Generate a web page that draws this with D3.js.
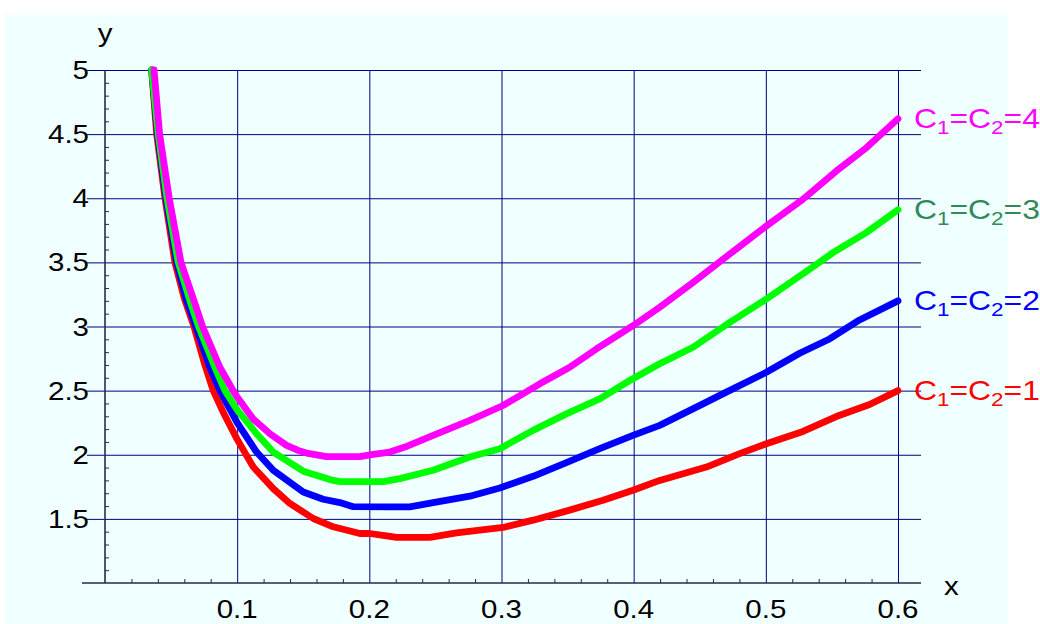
<!DOCTYPE html>
<html>
<head>
<meta charset="utf-8">
<script src="https://cdn.jsdelivr.net/npm/d3@7"></script>
<style>
  html, body { margin: 0; padding: 0; background: #ffffff; }
  svg { display: block; }
  text { font-family: "Liberation Sans", Arial, sans-serif; }
</style>
</head>
<body>
<svg id="chart" width="1040" height="624"></svg>
<script>
// Curves y(x) for C1 = C2 = 1..4
const curve1 = [
  [0.0353, 5.0], [0.0391, 4.5], [0.0454, 4.0], [0.0529, 3.5], [0.0600, 3.22],
  [0.0673, 3.0], [0.0756, 2.70], [0.0819, 2.5], [0.0900, 2.32], [0.1000, 2.12],
  [0.1122, 1.904], [0.1273, 1.736], [0.1399, 1.62], [0.1576, 1.503], [0.1727, 1.438],
  [0.1928, 1.386], [0.2004, 1.386], [0.2130, 1.368], [0.2206, 1.356], [0.2458, 1.356],
  [0.2558, 1.373], [0.2660, 1.391], [0.3012, 1.433], [0.3239, 1.49], [0.3516, 1.568],
  [0.3768, 1.645], [0.3995, 1.723], [0.4197, 1.80], [0.4550, 1.904], [0.4802, 2.009],
  [0.5004, 2.086], [0.5281, 2.182], [0.5533, 2.298], [0.5785, 2.392], [0.6000, 2.50]
];
const curve2 = [
  [0.0353, 5.0], [0.0398, 4.5], [0.0461, 4.0], [0.0542, 3.5], [0.0618, 3.2],
  [0.0688, 3.0], [0.0794, 2.68], [0.0870, 2.5], [0.1000, 2.25], [0.1147, 2.021],
  [0.1273, 1.879], [0.1500, 1.71], [0.1651, 1.653], [0.1777, 1.627], [0.1878, 1.595],
  [0.2155, 1.593], [0.2306, 1.593], [0.2483, 1.627], [0.2760, 1.677], [0.2987, 1.741],
  [0.3239, 1.832], [0.3491, 1.939], [0.3743, 2.047], [0.3995, 2.151], [0.4197, 2.229],
  [0.4524, 2.397], [0.4701, 2.488], [0.5004, 2.643], [0.5256, 2.791], [0.5482, 2.903],
  [0.5709, 3.051], [0.6000, 3.20]
];
const curve3 = [
  [0.0353, 5.0], [0.0403, 4.5], [0.0469, 4.0], [0.0554, 3.5], [0.0643, 3.2],
  [0.0708, 3.0], [0.0832, 2.682], [0.0908, 2.5], [0.1000, 2.35], [0.1147, 2.164],
  [0.1273, 2.021], [0.1500, 1.872], [0.1727, 1.80], [0.1777, 1.79], [0.2105, 1.79],
  [0.2231, 1.814], [0.2483, 1.879], [0.2760, 1.982], [0.2987, 2.047], [0.3239, 2.19],
  [0.3491, 2.319], [0.3743, 2.436], [0.3970, 2.579], [0.4197, 2.71], [0.4449, 2.838],
  [0.4701, 3.014], [0.5004, 3.214], [0.5331, 3.447], [0.5508, 3.576], [0.5760, 3.732],
  [0.6000, 3.91]
];
const curve4 = [
  [0.0371, 5.0], [0.0413, 4.5], [0.0486, 4.0], [0.0575, 3.5], [0.0680, 3.18],
  [0.0738, 3.0], [0.0870, 2.68], [0.0970, 2.5], [0.1000, 2.45], [0.1120, 2.28],
  [0.1248, 2.164], [0.1374, 2.073], [0.1462, 2.034], [0.1525, 2.013], [0.1676, 1.985],
  [0.1928, 1.985], [0.2029, 2.003], [0.2155, 2.021], [0.2269, 2.06], [0.2483, 2.151],
  [0.2760, 2.268], [0.3012, 2.384], [0.3290, 2.553], [0.3516, 2.682], [0.3718, 2.825],
  [0.3995, 3.006], [0.4197, 3.15], [0.4449, 3.343], [0.4726, 3.564], [0.5004, 3.784],
  [0.5281, 3.992], [0.5533, 4.212], [0.5760, 4.393], [0.6000, 4.62]
];

const cValues   = [1, 2, 3, 4];
const lineColors  = ["#ff0000", "#0000ff", "#00ff00", "#ff00ff"];
const labelColors = ["#ff0000", "#0000ff", "#2e8b57", "#ff00ff"];
const curves = [curve1, curve2, curve3, curve4];

const xTicks = [0.1, 0.2, 0.3, 0.4, 0.5, 0.6];
const yTicks = [1.5, 2, 2.5, 3, 3.5, 4, 4.5, 5];
const xTickLabels = ["0.1", "0.2", "0.3", "0.4", "0.5", "0.6"];
const yTickLabels = ["1.5", "2", "2.5", "3", "3.5", "4", "4.5", "5"];
const xMinor = d3.range(1, 31).map(i => +(i * 0.02).toFixed(2)).filter(v => !xTicks.includes(v));
const yMinor = d3.range(11, 50).map(i => +(i * 0.1).toFixed(1)).filter(v => !yTicks.includes(v));

// glyphs are drawn slightly wide
const WIDE = 1.18;

const svg = d3.select("#chart");

// plot background
svg.append("rect").attr("x", 5).attr("y", 15).attr("width", 1003).attr("height", 609)
  .attr("fill", "#f0ffff");

const x = d3.scaleLinear().domain([0, 0.6]).range([105, 898]);
const y = d3.scaleLinear().domain([1, 5]).range([583, 70]);

const gridColor = "#000080";
const axisColor = "#2a2a48";

// horizontal grid lines (start a little left of the y axis)
svg.append("g")
  .attr("transform", "translate(87,0)")
  .call(d3.axisRight(y).tickValues(yTicks).tickSize(921 - 87).tickFormat(""))
  .call(g => g.select(".domain").remove())
  .call(g => g.selectAll(".tick line").attr("stroke", gridColor).attr("stroke-width", 1));

// vertical grid lines
svg.append("g")
  .attr("transform", "translate(0,583)")
  .call(d3.axisTop(x).tickValues(xTicks).tickSize(583 - 70).tickFormat(""))
  .call(g => g.select(".domain").remove())
  .call(g => g.selectAll(".tick line").attr("stroke", gridColor).attr("stroke-width", 1));

// minor ticks
svg.append("g")
  .attr("transform", "translate(105,0)")
  .call(d3.axisRight(y).tickValues(yMinor).tickSize(4).tickFormat(""))
  .call(g => g.select(".domain").remove())
  .call(g => g.selectAll(".tick line").attr("stroke", axisColor));
svg.append("g")
  .attr("transform", "translate(0,583)")
  .call(d3.axisTop(x).tickValues(xMinor).tickSize(4).tickFormat(""))
  .call(g => g.select(".domain").remove())
  .call(g => g.selectAll(".tick line").attr("stroke", axisColor));

// axis lines
svg.append("line").attr("x1", 82).attr("x2", 921).attr("y1", y(1)).attr("y2", y(1))
  .attr("stroke", axisColor).attr("stroke-width", 1.6);
svg.append("line").attr("x1", x(0)).attr("x2", x(0)).attr("y1", y(1)).attr("y2", y(5))
  .attr("stroke", axisColor).attr("stroke-width", 1.6);

// tick labels
svg.append("g").selectAll("text").data(yTicks).join("text")
  .attr("transform", d => `translate(89,${y(d) + 9}) scale(${WIDE},1)`)
  .attr("text-anchor", "end")
  .attr("font-size", 25)
  .text((d, i) => yTickLabels[i]);
svg.append("g").selectAll("text").data(xTicks).join("text")
  .attr("transform", d => `translate(${x(d)},618) scale(${WIDE},1)`)
  .attr("text-anchor", "middle")
  .attr("font-size", 25)
  .text((d, i) => xTickLabels[i]);

// axis titles
svg.append("text").attr("transform", `translate(105,42) scale(${WIDE},1)`)
  .attr("text-anchor", "middle").attr("font-size", 25).text("y");
svg.append("text").attr("transform", `translate(944,595) scale(${WIDE},1)`)
  .attr("font-size", 25).text("x");

// curves
const line = d3.line().x(d => x(d[0])).y(d => y(d[1])).curve(d3.curveLinear);
svg.append("g").selectAll("path").data(curves).join("path")
  .attr("d", line)
  .attr("fill", "none")
  .attr("stroke", (d, i) => lineColors[i])
  .attr("stroke-width", 6.8)
  .attr("stroke-linecap", "round")
  .attr("stroke-linejoin", "round");

// end labels  C1=C2=n
const labels = svg.append("g");
curves.forEach((c, i) => {
  const last = c[c.length - 1];
  const t = labels.append("text")
    .attr("transform", `translate(${x(last[0]) + 16},${y(last[1]) + 9.5}) scale(${WIDE},1)`)
    .attr("font-size", 27)
    .attr("fill", labelColors[i]);
  t.append("tspan").text("C");
  t.append("tspan").attr("dy", 6).attr("font-size", 19).text("1");
  t.append("tspan").attr("dy", -6).text("=C");
  t.append("tspan").attr("dy", 6).attr("font-size", 19).text("2");
  t.append("tspan").attr("dy", -6).text("=" + cValues[i]);
});
</script>
</body>
</html>
